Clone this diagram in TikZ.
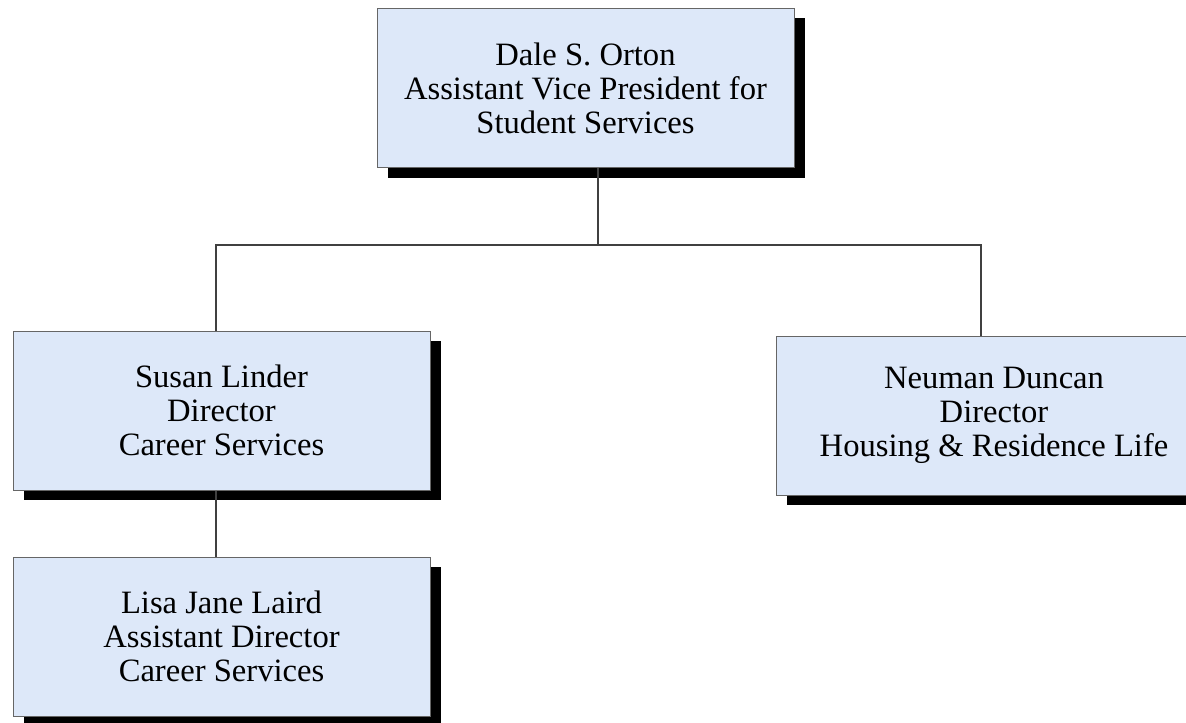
\documentclass[tikz,border=0pt]{standalone}
\usepackage{fontspec}
\setmainfont{Liberation Serif}
\usetikzlibrary{shadows}
\definecolor{boxfill}{HTML}{DDE8F9}

\begin{document}
\begin{tikzpicture}[x=0.5pt,y=-0.5pt,
    person/.style={rectangle,draw=gray!80!black,line width=0.5pt,fill=boxfill,
      minimum width=208.5pt,minimum height=79.5pt,align=center,
      font=\fontsize{16.3}{17}\selectfont,
      drop shadow={shadow xshift=5.5pt,shadow yshift=-5pt,fill=black,opacity=1}},
    line/.style={draw=black!75,line width=0.6pt}]
    \clip (0,0) rectangle (1186,722);
    \node[person] (orton) at (585.5, 88) {Dale S. Orton\\Assistant Vice President for\\Student Services};
    \node[person] (linder) at (221.5, 410.5) {Susan Linder\\Director\\Career Services};
    \node[person] (laird) at (221.5, 636.5) {Lisa Jane Laird\\Assistant Director\\Career Services};
    \node[person,minimum width=218pt] (duncan) at (994, 415.5) {Neuman Duncan\\Director\\Housing \& Residence Life};
    \coordinate (bus) at (598, 245);
    \coordinate (busL) at (216, 245);
    \coordinate (busR) at (981, 245);
    \draw[line] (bus |- orton.south) -- (bus);
    \draw[line] (busL |- linder.north) -- (busL) -- (busR) -- (busR |- duncan.north);
    \draw[line] (busL |- linder.south) -- (busL |- laird.north);
\end{tikzpicture}
\end{document}
